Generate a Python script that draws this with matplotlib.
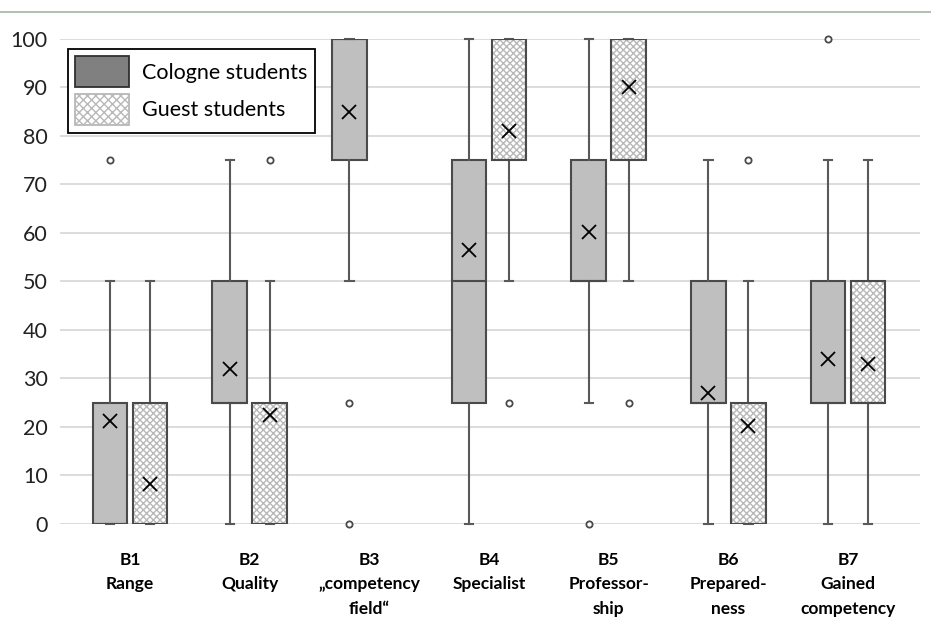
import matplotlib.pyplot as plt
from matplotlib.patches import PathPatch, Patch
from matplotlib.lines import Line2D

plt.rcParams['font.family'] = ['Lato', 'DejaVu Sans']

# data, per item B1..B7 (None = no box drawn)
labels = ['B1\nRange', 'B2\nQuality', 'B3\n\u201ecompetency\nfield\u201c', 'B4\nSpecialist',
          'B5\nProfessor-\nship', 'B6\nPrepared-\nness', 'B7\nGained\ncompetency']

cologne_low   = [0, 0, 50, 0, 25, 0, 0]
cologne_q1    = [0, 25, 75, 25, 50, 25, 25]
cologne_med   = [0, 25, 100, 50, 50, 25, 25]
cologne_q3    = [25, 50, 100, 75, 75, 50, 50]
cologne_high  = [50, 75, 100, 100, 100, 75, 75]
cologne_mean  = [21.3, 32, 85, 56.5, 60.2, 27, 34]
cologne_fliers = [[75], [], [25, 0], [], [0], [], [100]]

guest_low   = [0, 0, None, 50, 50, 0, 0]
guest_q1    = [0, 0, None, 75, 75, 0, 25]
guest_med   = [0, 0, None, 100, 100, 0, 25]
guest_q3    = [25, 25, None, 100, 100, 25, 50]
guest_high  = [50, 50, None, 100, 100, 50, 75]
guest_mean  = [8.3, 22.5, None, 81, 90, 20.2, 33]
guest_fliers = [[], [75], [], [25], [25], [75], []]


def make_stats(low, q1, med, q3, high, mean, fliers):
    out = []
    for i in range(len(low)):
        if low[i] is None:
            continue
        out.append(dict(whislo=low[i], q1=q1[i], med=med[i], q3=q3[i], whishi=high[i],
                        mean=mean[i], fliers=fliers[i]))
    return out


fig = plt.figure(figsize=(9.31, 6.19), dpi=100)
ax = fig.add_axes([0.0645, 0.1535, 0.9235, 0.7835])

off = 0.167
width = 0.29
groups = list(range(1, len(labels) + 1))
edge = '#4a4a4a'
wcol = '#595959'

common = dict(widths=width, patch_artist=True, showmeans=True, showfliers=True,
              whiskerprops=dict(color=wcol, lw=1.5),
              capprops=dict(color=wcol, lw=1.5),
              medianprops=dict(color=edge, lw=1.5),
              meanprops=dict(marker='x', markersize=10, markeredgecolor='black',
                             markeredgewidth=1.3, linestyle='none'),
              flierprops=dict(marker='o', markersize=4.5, markerfacecolor='white',
                              markeredgecolor=edge, markeredgewidth=1.3),
              capwidths=0.07, manage_ticks=False, zorder=3)

cs = make_stats(cologne_low, cologne_q1, cologne_med, cologne_q3, cologne_high,
                cologne_mean, cologne_fliers)
b1 = ax.bxp(cs, positions=[g - off for g in groups], boxprops=dict(facecolor='#bfbfbf',
            edgecolor=edge, lw=1.5), **common)

gpos = [g + off for g, v in zip(groups, guest_low) if v is not None]
gs = make_stats(guest_low, guest_q1, guest_med, guest_q3, guest_high, guest_mean, guest_fliers)
b2 = ax.bxp(gs, positions=gpos, boxprops=dict(facecolor='white', edgecolor='#b8b8b8',
            lw=0, hatch='xxxxx'), **common)
for bx in b2['boxes']:
    ax.add_patch(PathPatch(bx.get_path(), fill=False, edgecolor=edge, lw=1.5, zorder=3.5))

for art in b1['fliers'] + b2['fliers'] + b1['means'] + b2['means'] + b1['caps'] + b2['caps'] + b1['whiskers'] + b2['whiskers']:
    art.set_clip_on(False)

ax.set_ylim(0, 100)
ax.set_xlim(0.415, 7.6)
ax.set_yticks(range(0, 101, 10))
ax.yaxis.grid(True, color='#d9d9d9', lw=1.3, zorder=0)
ax.set_axisbelow(True)
for s in ax.spines.values():
    s.set_visible(False)
ax.tick_params(axis='y', length=0, labelsize=15.5, pad=9, labelcolor='#222222')
ax.tick_params(axis='x', length=0, pad=20)
ax.set_xticks(groups)
ax.set_xticklabels(labels, fontsize=12.5, fontweight='bold', linespacing=1.65)
for t in ax.get_xticklabels():
    t.set_verticalalignment('top')

handles = [Patch(facecolor='#808080', edgecolor='#303030', lw=1.3),
           Patch(facecolor='white', edgecolor='#b8b8b8', hatch='xxxx', lw=1.3)]
leg = ax.legend(handles, ['Cologne students', 'Guest students'], loc='upper left',
                bbox_to_anchor=(0.009, 0.98), fontsize=15.5, frameon=True, fancybox=False,
                edgecolor='black', framealpha=1, handlelength=2.5, handleheight=1.85,
                borderpad=0.35, labelspacing=0.3, handletextpad=0.6, borderaxespad=0)
leg.get_frame().set_linewidth(1.3)

fig.add_artist(Line2D([0, 1], [1 - 12 / 619] * 2, color='#9fb5a5', lw=1.2))

fig.savefig('out.png', dpi=100)
